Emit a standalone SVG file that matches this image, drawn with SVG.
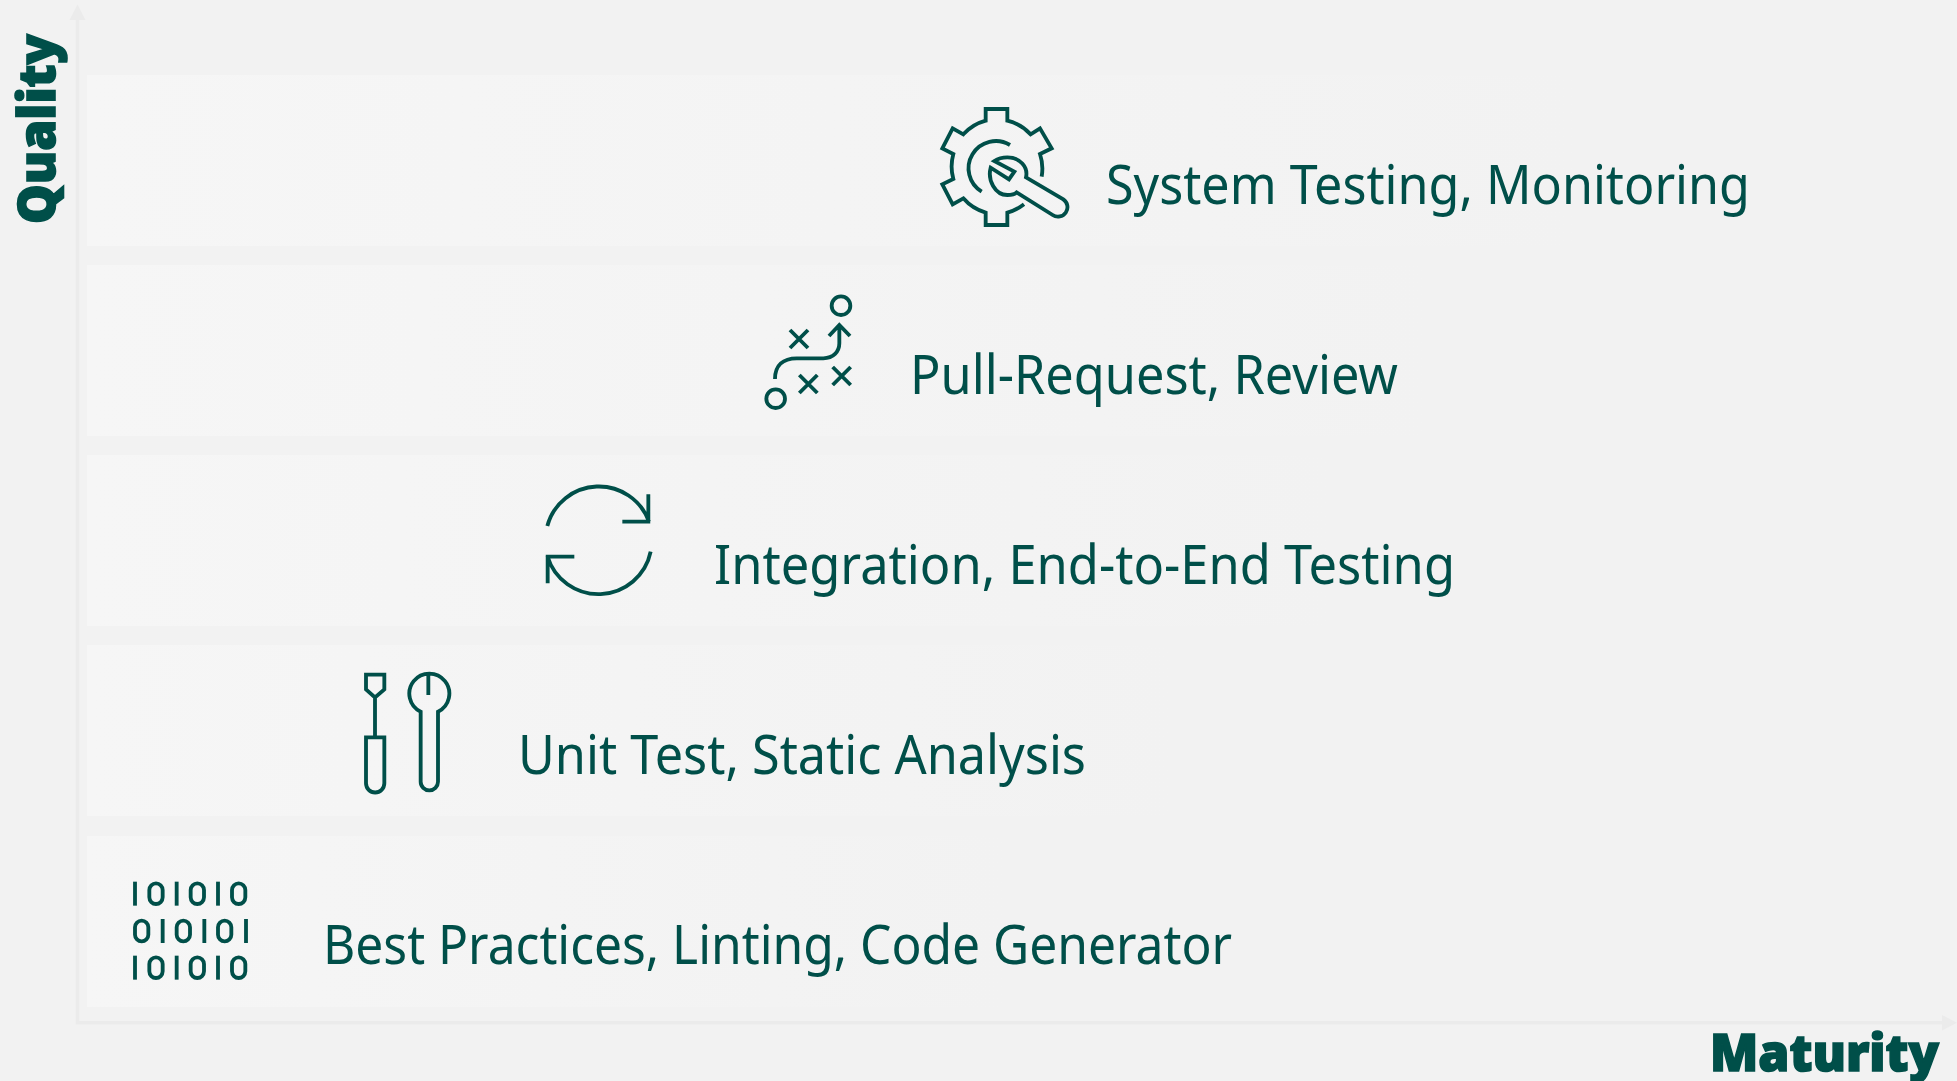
<svg xmlns="http://www.w3.org/2000/svg" xmlns:xlink="http://www.w3.org/1999/xlink" width="1957" height="1081" viewBox="0 0 1957 1081">
<style>
.label{font-family:"Noto Sans","Open Sans","Liberation Sans",sans-serif;font-size:55px;fill:#004f49}
.axis{font-family:"Noto Sans","Lato","Liberation Sans",sans-serif;font-size:52px;font-weight:900;fill:#004f49;stroke:#004f49;stroke-width:1.6}
.ic{fill:none;stroke:#004f49;stroke-width:11.5;stroke-linejoin:miter}
.ax{fill:none;stroke:#ebebeb;stroke-width:3.5}
.ah{fill:#ebebeb}
</style>
<defs>
<linearGradient id="g1" gradientUnits="userSpaceOnUse" x1="87" y1="0" x2="1575" y2="0"><stop offset="0" stop-color="#f6f6f6"/><stop offset="1" stop-color="#f2f2f2"/></linearGradient>
<linearGradient id="g2" gradientUnits="userSpaceOnUse" x1="87" y1="0" x2="1430" y2="0"><stop offset="0" stop-color="#f6f6f6"/><stop offset="1" stop-color="#f2f2f2"/></linearGradient>
<linearGradient id="g3" gradientUnits="userSpaceOnUse" x1="87" y1="0" x2="1335" y2="0"><stop offset="0" stop-color="#f6f6f6"/><stop offset="1" stop-color="#f2f2f2"/></linearGradient>
<linearGradient id="g4" gradientUnits="userSpaceOnUse" x1="87" y1="0" x2="1172" y2="0"><stop offset="0" stop-color="#f6f6f6"/><stop offset="1" stop-color="#f2f2f2"/></linearGradient>
<linearGradient id="g5" gradientUnits="userSpaceOnUse" x1="87" y1="0" x2="1005" y2="0"><stop offset="0" stop-color="#f6f6f6"/><stop offset="1" stop-color="#f2f2f2"/></linearGradient>
<rect id="z" x="5" y="5" width="40" height="62" rx="20"/>
<path id="o" d="M0 0V72"/>
</defs>
<rect width="1957" height="1081" fill="#f2f2f2"/>
<g id="connectors">
<path class="ax" d="M77.5 20V1022.7H1942"/>
<path class="ah" d="M77.5 4.5L85.5 20H69.5Z"/>
<path class="ah" d="M1957 1022.7L1942 1015V1030.5Z"/>
</g>
<g id="row-system-testing">
<rect x="87" y="75" width="1488" height="171" fill="url(#g1)"/>
<g transform="translate(900 80) scale(.33333)" class="ic">
<path d="M372 373A140 140 0 0 1 322 398V435H257V398A140 140 0 0 1 190 355L158 373L127 313L160 297A140 140 0 0 1 160 222L127 205L158 145L190 163A140 140 0 0 1 257 122V87H322V122A140 140 0 0 1 392 163L420 145L455 205L420 222A140 140 0 0 1 425 290"/>
<path d="M330 195A80 80 0 0 0 245 335"/>
<path d="M272 263C262 300 285 345 322 345C335 345 345 342 350 337L458 405A27 27 0 0 0 490 358L378 292C385 262 360 232 322 232C305 232 292 237 283 243L343 275L327 298Z"/>
</g>
<text class="label" x="1106" y="204" textLength="644" lengthAdjust="spacingAndGlyphs">System Testing, Monitoring</text>
</g>
<g id="row-pull-request">
<rect x="87" y="265" width="1343" height="171" fill="url(#g2)"/>
<g transform="translate(740 280) scale(.33333)" class="ic">
<circle cx="303" cy="77" r="28"/><circle cx="107" cy="356" r="28"/>
<path d="M150 150L204 204M204 150L150 204M178 285L232 339M232 285L178 339M278 261L332 315M332 261L278 315"/>
<path d="M105 297C105 255 130 235 170 235H250C280 235 298 215 298 190V135M267 168L298 135L330 168"/>
</g>
<text class="label" x="910" y="394" textLength="488" lengthAdjust="spacingAndGlyphs">Pull-Request, Review</text>
</g>
<g id="row-integration">
<rect x="87" y="455" width="1248" height="171" fill="url(#g3)"/>
<g transform="translate(530 470) scale(.33333)" class="ic">
<path d="M52 168A160 160 0 0 1 357 155M355 73V155H277"/>
<path d="M362 245A160 160 0 0 1 52 258M53 340V260H133"/>
</g>
<text class="label" x="714" y="584" textLength="741" lengthAdjust="spacingAndGlyphs">Integration, End-to-End Testing</text>
</g>
<g id="row-unit-test">
<rect x="87" y="645" width="1085" height="171" fill="url(#g4)"/>
<g transform="translate(340 660) scale(.33333)" class="ic">
<path d="M78 44H133V88L105 112L78 88ZM105 112V230M78 232H133V370A27 27 0 0 1 78 370Z"/>
<path d="M242 365V155A60 60 0 1 1 294 155V365A26 26 0 0 1 242 365ZM265 44V105"/>
</g>
<text class="label" x="518" y="774" textLength="568" lengthAdjust="spacingAndGlyphs">Unit Test, Static Analysis</text>
</g>
<g id="row-best-practices">
<rect x="87" y="836" width="918" height="171" fill="url(#g5)"/>
<g transform="translate(110 860) scale(.33333)" class="ic">
<use href="#o" x="75" y="65"/><use href="#z" x="113" y="65"/><use href="#o" x="200" y="65"/><use href="#z" x="237" y="65"/><use href="#o" x="324" y="65"/><use href="#z" x="361" y="65"/>
<use href="#z" x="70" y="177"/><use href="#o" x="158" y="177"/><use href="#z" x="195" y="177"/><use href="#o" x="283" y="177"/><use href="#z" x="319" y="177"/><use href="#o" x="408" y="177"/>
<use href="#o" x="75" y="287"/><use href="#z" x="113" y="287"/><use href="#o" x="200" y="287"/><use href="#z" x="237" y="287"/><use href="#o" x="324" y="287"/><use href="#z" x="361" y="287"/>
</g>
<text class="label" x="323" y="964" textLength="909" lengthAdjust="spacingAndGlyphs">Best Practices, Linting, Code Generator</text>
</g>
<g id="axis-labels">
<text class="axis" transform="translate(55 224) rotate(-90)" textLength="190" lengthAdjust="spacingAndGlyphs">Quality</text>
<text class="axis" x="1710" y="1071" textLength="229" lengthAdjust="spacingAndGlyphs">Maturity</text>
</g>
</svg>
